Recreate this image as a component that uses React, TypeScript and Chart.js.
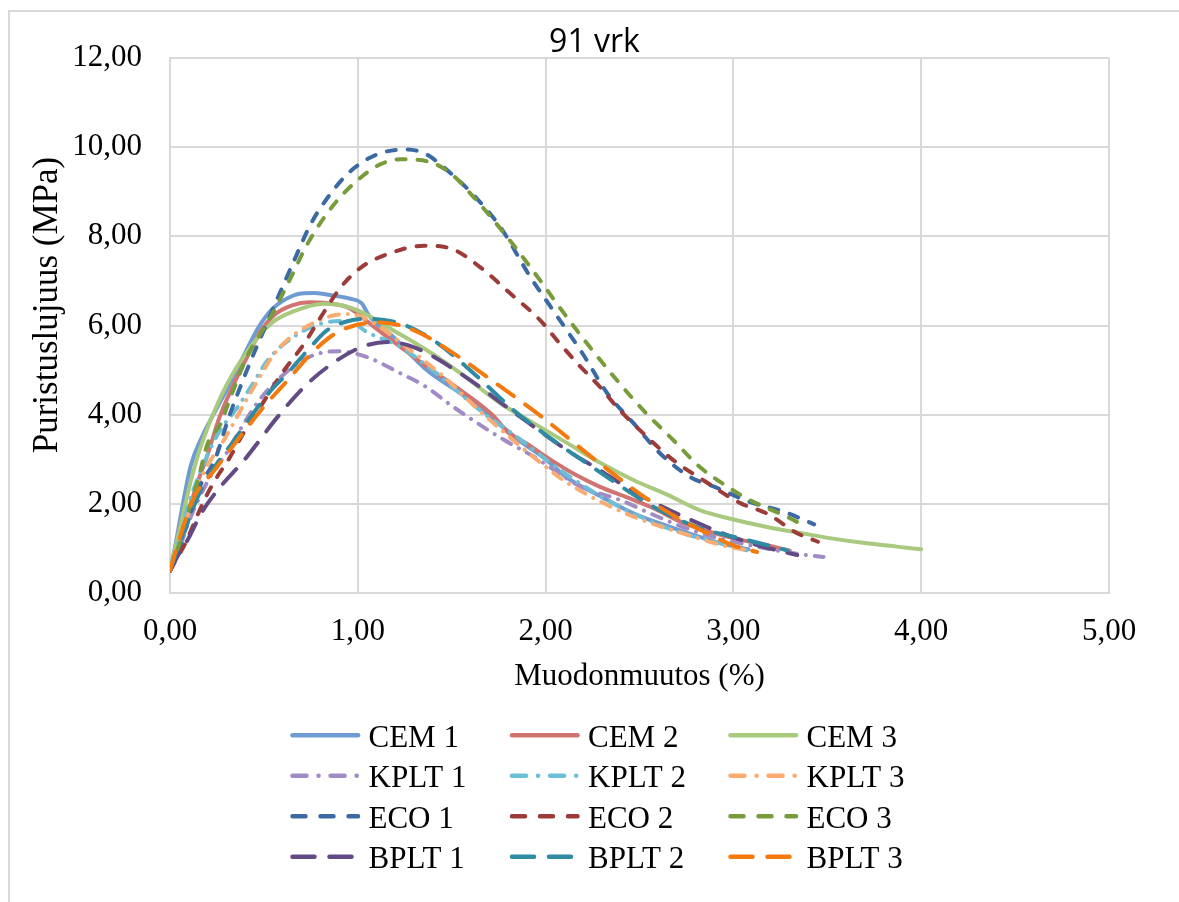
import React, { useEffect, useRef } from 'react';
import { Chart, registerables } from 'chart.js';

Chart.register(...registerables);

// ---------- DATA ----------
const chartTitle = '91 vrk';
const xAxisTitle = 'Muodonmuutos (%)';
const yAxisTitle = 'Puristuslujuus (MPa)';

const xTickValues = [0, 1, 2, 3, 4, 5];
const xTickLabels = ['0,00', '1,00', '2,00', '3,00', '4,00', '5,00'];
const yTickValues = [0, 2, 4, 6, 8, 10, 12];
const yTickLabels = ['0,00', '2,00', '4,00', '6,00', '8,00', '10,00', '12,00'];

const seriesNames = ['CEM 1', 'CEM 2', 'CEM 3', 'KPLT 1', 'KPLT 2', 'KPLT 3', 'ECO 1', 'ECO 2', 'ECO 3', 'BPLT 1', 'BPLT 2', 'BPLT 3'];

const CEM1 = [[0, 0.5], [0.03, 1.1], [0.06, 1.8], [0.11, 2.85], [0.17, 3.5], [0.25, 4.15], [0.31, 4.62], [0.39, 5.3], [0.47, 5.95], [0.54, 6.35], [0.62, 6.6], [0.7, 6.72], [0.77, 6.73], [0.87, 6.67], [0.96, 6.6], [1.02, 6.5], [1.06, 6.22], [1.19, 5.74], [1.37, 4.99], [1.55, 4.47], [1.7, 3.98], [1.85, 3.45], [2.0, 3.0], [2.11, 2.6], [2.3, 2.15], [2.47, 1.78], [2.65, 1.5], [2.82, 1.26], [2.95, 1.1], [3.08, 0.98]];
const CEM2 = [[0, 0.5], [0.04, 1.0], [0.09, 1.7], [0.14, 2.4], [0.2, 3.1], [0.26, 3.9], [0.33, 4.6], [0.4, 5.2], [0.48, 5.85], [0.56, 6.25], [0.65, 6.45], [0.74, 6.52], [0.84, 6.5], [0.95, 6.4], [1.09, 5.96], [1.23, 5.51], [1.37, 5.07], [1.55, 4.54], [1.72, 3.98], [1.8, 3.6], [1.9, 3.35], [2.03, 2.98], [2.16, 2.65], [2.29, 2.38], [2.43, 2.15], [2.56, 1.93], [2.74, 1.56], [2.97, 1.26], [3.18, 1.07], [3.3, 0.95]];
const CEM3 = [[0, 0.5], [0.05, 1.4], [0.11, 2.5], [0.165, 3.3], [0.27, 4.4], [0.4, 5.35], [0.54, 6.05], [0.66, 6.32], [0.82, 6.49], [0.92, 6.45], [1.02, 6.3], [1.19, 5.89], [1.37, 5.44], [1.55, 4.92], [1.76, 4.25], [1.9, 3.9], [2.12, 3.35], [2.3, 2.9], [2.47, 2.53], [2.65, 2.2], [2.82, 1.86], [3.0, 1.65], [3.18, 1.48], [3.35, 1.35], [3.53, 1.22], [3.7, 1.12], [3.87, 1.04], [4.0, 0.98]];
const KPLT1 = [[0, 0.5], [0.05, 1.0], [0.1, 1.6], [0.2, 2.5], [0.31, 3.2], [0.4, 3.85], [0.48, 4.35], [0.61, 4.92], [0.72, 5.25], [0.82, 5.4], [0.9, 5.42], [1.05, 5.29], [1.23, 4.92], [1.35, 4.66], [1.5, 4.2], [1.64, 3.8], [1.78, 3.43], [1.94, 3.05], [2.19, 2.38], [2.4, 2.08], [2.56, 1.78], [2.75, 1.45], [2.95, 1.2], [3.15, 1.02], [3.32, 0.89], [3.48, 0.81]];
const KPLT2 = [[0, 0.5], [0.05, 1.2], [0.1, 2.0], [0.17, 2.8], [0.26, 3.6], [0.36, 4.17], [0.43, 4.62], [0.52, 5.22], [0.63, 5.66], [0.8, 6.04], [0.95, 6.1], [1.05, 5.85], [1.23, 5.51], [1.42, 4.92], [1.65, 4.1], [1.87, 3.43], [2.08, 2.75], [2.36, 2.01], [2.68, 1.41], [2.9, 1.15], [3.07, 0.96]];
const KPLT3 = [[0, 0.5], [0.05, 1.1], [0.1, 1.8], [0.18, 2.7], [0.29, 3.45], [0.43, 4.5], [0.57, 5.44], [0.79, 6.11], [0.95, 6.26], [1.09, 6.04], [1.26, 5.51], [1.46, 4.84], [1.62, 4.2], [1.78, 3.6], [1.95, 3.0], [2.12, 2.46], [2.43, 1.78], [2.79, 1.26], [2.97, 1.04], [3.14, 0.92]];
const ECO1 = [[0, 0.5], [0.05, 1.0], [0.11, 1.8], [0.16, 2.4], [0.24, 3.0], [0.31, 3.9], [0.41, 5.0], [0.5, 5.9], [0.59, 6.78], [0.66, 7.45], [0.75, 8.28], [0.84, 8.87], [0.945, 9.4], [1.05, 9.73], [1.15, 9.9], [1.26, 9.95], [1.36, 9.85], [1.46, 9.54], [1.62, 8.91], [1.76, 8.2], [1.92, 7.08], [2.04, 6.34], [2.2, 5.35], [2.33, 4.47], [2.47, 3.8], [2.61, 3.13], [2.77, 2.6], [2.9, 2.38], [3.09, 2.04], [3.27, 1.82], [3.43, 1.54]];
const ECO2 = [[0, 0.5], [0.04, 0.8], [0.08, 1.1], [0.15, 1.78], [0.2, 2.23], [0.25, 2.6], [0.31, 2.98], [0.4, 3.65], [0.5, 4.3], [0.6, 4.95], [0.714, 5.59], [0.803, 6.19], [0.91, 6.86], [1.016, 7.3], [1.158, 7.6], [1.353, 7.79], [1.5, 7.72], [1.654, 7.3], [1.814, 6.71], [1.973, 6.11], [2.062, 5.66], [2.18, 5.1], [2.29, 4.62], [2.38, 4.17], [2.52, 3.58], [2.68, 2.98], [2.84, 2.53], [3.04, 2.01], [3.18, 1.78], [3.34, 1.34], [3.45, 1.15]];
const ECO3 = [[0, 0.5], [0.05, 1.1], [0.11, 2.0], [0.15, 2.55], [0.2, 3.35], [0.27, 3.8], [0.31, 4.25], [0.41, 5.3], [0.48, 5.8], [0.555, 6.34], [0.644, 7.08], [0.732, 7.83], [0.874, 8.72], [1.016, 9.32], [1.122, 9.62], [1.229, 9.73], [1.335, 9.71], [1.477, 9.47], [1.619, 8.87], [1.796, 7.98], [1.973, 7.0], [2.06, 6.49], [2.22, 5.6], [2.38, 4.77], [2.52, 4.1], [2.68, 3.43], [2.82, 2.83], [2.97, 2.38], [3.09, 2.08], [3.285, 1.71], [3.39, 1.48]];
const BPLT1 = [[0, 0.5], [0.05, 0.9], [0.094, 1.19], [0.165, 1.78], [0.254, 2.31], [0.395, 2.98], [0.573, 3.95], [0.714, 4.62], [0.839, 5.07], [1.016, 5.51], [1.158, 5.63], [1.3, 5.51], [1.548, 4.92], [1.8, 4.15], [2.115, 3.2], [2.275, 2.79], [2.5, 2.2], [2.86, 1.48], [3.04, 1.19], [3.23, 0.96], [3.34, 0.85]];
const BPLT2 = [[0, 0.5], [0.06, 1.2], [0.165, 2.31], [0.342, 3.43], [0.537, 4.54], [0.62, 4.9], [0.732, 5.44], [0.839, 5.9], [0.95, 6.1], [1.05, 6.15], [1.229, 6.04], [1.406, 5.66], [1.619, 4.92], [1.83, 4.1], [1.99, 3.58], [2.275, 2.75], [2.576, 1.93], [2.807, 1.48], [3.07, 1.19], [3.285, 0.96]];
const BPLT3 = [[0, 0.5], [0.02, 0.8], [0.129, 2.15], [0.236, 2.75], [0.36, 3.43], [0.484, 4.1], [0.626, 4.77], [0.768, 5.44], [0.91, 5.89], [1.122, 6.07], [1.3, 5.89], [1.512, 5.37], [1.69, 4.84], [1.98, 3.95], [2.29, 2.9], [2.576, 2.01], [2.86, 1.34], [3.0, 1.07], [3.126, 0.92]];

const seriesData = [CEM1, CEM2, CEM3, KPLT1, KPLT2, KPLT3, ECO1, ECO2, ECO3, BPLT1, BPLT2, BPLT3];

const seriesColors = ['#6f9bd3', '#d07471', '#a9c97e', '#a08bc4', '#6cbfd6', '#f9ac72', '#3a69a3', '#9c3b38', '#789c3b', '#624a85', '#2f8aa3', '#f47a0e'];

// ---------- STYLE ----------
const SOLID: number[] = [];
const DASH_DOT = [10, 9, 0.1, 9];
const DASH = [9, 12];
const LONG_DASH = [20, 14];
const seriesDash = [SOLID, SOLID, SOLID, DASH_DOT, DASH_DOT, DASH_DOT, DASH, DASH, DASH, LONG_DASH, LONG_DASH, LONG_DASH];
const legendDash = [SOLID, SOLID, SOLID, [14, 12, 0.1, 12], [14, 12, 0.1, 12], [14, 12, 0.1, 12], [13, 15], [13, 15], [13, 15], [22, 15], [22, 15], [22, 15]];

const SERIF = '"Liberation Serif", "Times New Roman", serif';
const SANS = '"Open Sans", "Noto Sans", sans-serif';
const GRID = '#d9d9d9';

const W = 1179;
const H = 902;

export default function App() {
  const ref = useRef<HTMLCanvasElement | null>(null);

  useEffect(() => {
    const canvas = ref.current;
    if (!canvas) return;

    const backgroundPlugin = {
      id: 'bgFrame',
      beforeDraw(chart: any) {
        const ctx = chart.ctx;
        ctx.save();
        ctx.fillStyle = '#ffffff';
        ctx.fillRect(0, 0, W, H);
        ctx.strokeStyle = GRID;
        ctx.lineWidth = 2;
        ctx.beginPath();
        ctx.moveTo(9, H + 5);
        ctx.lineTo(9, 11);
        ctx.lineTo(W + 5, 11);
        ctx.stroke();
        ctx.restore();
      },
    };

    const textPlugin = {
      id: 'texts',
      afterDraw(chart: any) {
        const ctx = chart.ctx;
        ctx.save();
        // title
        ctx.fillStyle = '#000000';
        ctx.font = `32px ${SANS}`;
        ctx.textAlign = 'center';
        ctx.textBaseline = 'alphabetic';
        ctx.fillText(chartTitle, 594.5, 52);
        // y-axis title
        ctx.save();
        ctx.translate(57, 305);
        ctx.rotate(-Math.PI / 2);
        ctx.font = `35px ${SERIF}`;
        ctx.textAlign = 'center';
        ctx.fillText(yAxisTitle, 0, 0);
        ctx.restore();
        // legend
        const colX = [290.5, 510, 728.5];
        const lineLen = 69.5;
        chart.data.datasets.forEach((ds: any, i: number) => {
          const col = i % 3;
          const row = Math.floor(i / 3);
          const baseY = 746.7 + row * 40.5;
          const ly = baseY - 11.5;
          const x0 = colX[col];
          ctx.save();
          ctx.strokeStyle = ds.borderColor;
          ctx.lineWidth = 4.5;
          ctx.lineCap = 'round';
          ctx.setLineDash(legendDash[i]);
          ctx.beginPath();
          ctx.moveTo(x0 + 2, ly);
          ctx.lineTo(x0 + lineLen - 2, ly);
          ctx.stroke();
          ctx.restore();
          ctx.fillStyle = '#000000';
          ctx.font = `31px ${SERIF}`;
          ctx.textAlign = 'left';
          ctx.textBaseline = 'alphabetic';
          ctx.fillText(ds.label, x0 + 78, baseY);
        });
        ctx.restore();
      },
    };

    const chart = new Chart(canvas, {
      type: 'scatter',
      data: {
        datasets: seriesData.map((d, i) => ({
          label: seriesNames[i],
          data: d,
          showLine: true,
          borderColor: seriesColors[i],
          backgroundColor: seriesColors[i],
          borderWidth: 4,
          borderDash: seriesDash[i],
          borderCapStyle: 'round',
          borderJoinStyle: 'round',
          pointRadius: 0,
          pointHoverRadius: 0,
          cubicInterpolationMode: 'monotone',
          fill: false,
          order: seriesData.length - 1 - i,
        })),
      },
      options: {
        responsive: false,
        maintainAspectRatio: false,
        animation: false,
        devicePixelRatio: 1,
        layout: { padding: { left: 0, top: 58, right: W - 1109, bottom: 200 } },
        plugins: {
          legend: { display: false },
          title: { display: false },
          tooltip: { enabled: false },
        },
        scales: {
          x: {
            type: 'linear',
            min: 0,
            max: 5,
            afterBuildTicks: (scale: any) => {
              scale.ticks = xTickValues.map((v) => ({ value: v }));
            },
            afterFit: (scale: any) => {
              scale.height = 109;
            },
            ticks: {
              padding: 20,
              color: '#000000',
              font: { family: SERIF, size: 31, lineHeight: 1.2 },
              maxRotation: 0,
              callback: (v: any) => xTickLabels[xTickValues.indexOf(Number(v))] ?? '',
            },
            grid: { color: GRID, lineWidth: 2, drawTicks: false },
            border: { display: true, color: GRID, width: 2 },
            title: {
              display: true,
              text: xAxisTitle,
              color: '#000000',
              font: { family: SERIF, size: 31, lineHeight: 1.2 },
              padding: { top: 0, bottom: 7 },
            },
          },
          y: {
            type: 'linear',
            min: 0,
            max: 12,
            afterBuildTicks: (scale: any) => {
              scale.ticks = yTickValues.map((v) => ({ value: v }));
            },
            afterFit: (scale: any) => {
              scale.width = 170;
            },
            ticks: {
              padding: 28,
              color: '#000000',
              font: { family: SERIF, size: 31, lineHeight: 1.2 },
              callback: (v: any) => yTickLabels[yTickValues.indexOf(Number(v))] ?? '',
            },
            grid: { color: GRID, lineWidth: 2, drawTicks: false },
            border: { display: true, color: GRID, width: 2 },
            title: { display: false },
          },
        },
      },
      plugins: [backgroundPlugin, textPlugin],
    } as any);

    return () => {
      chart.destroy();
    };
  }, []);

  return (
    <div style={{ position: 'absolute', left: 0, top: 0, width: W, height: H, background: '#ffffff' }}>
      <canvas ref={ref} width={W} height={H} style={{ display: 'block', width: W, height: H }} />
    </div>
  );
}
